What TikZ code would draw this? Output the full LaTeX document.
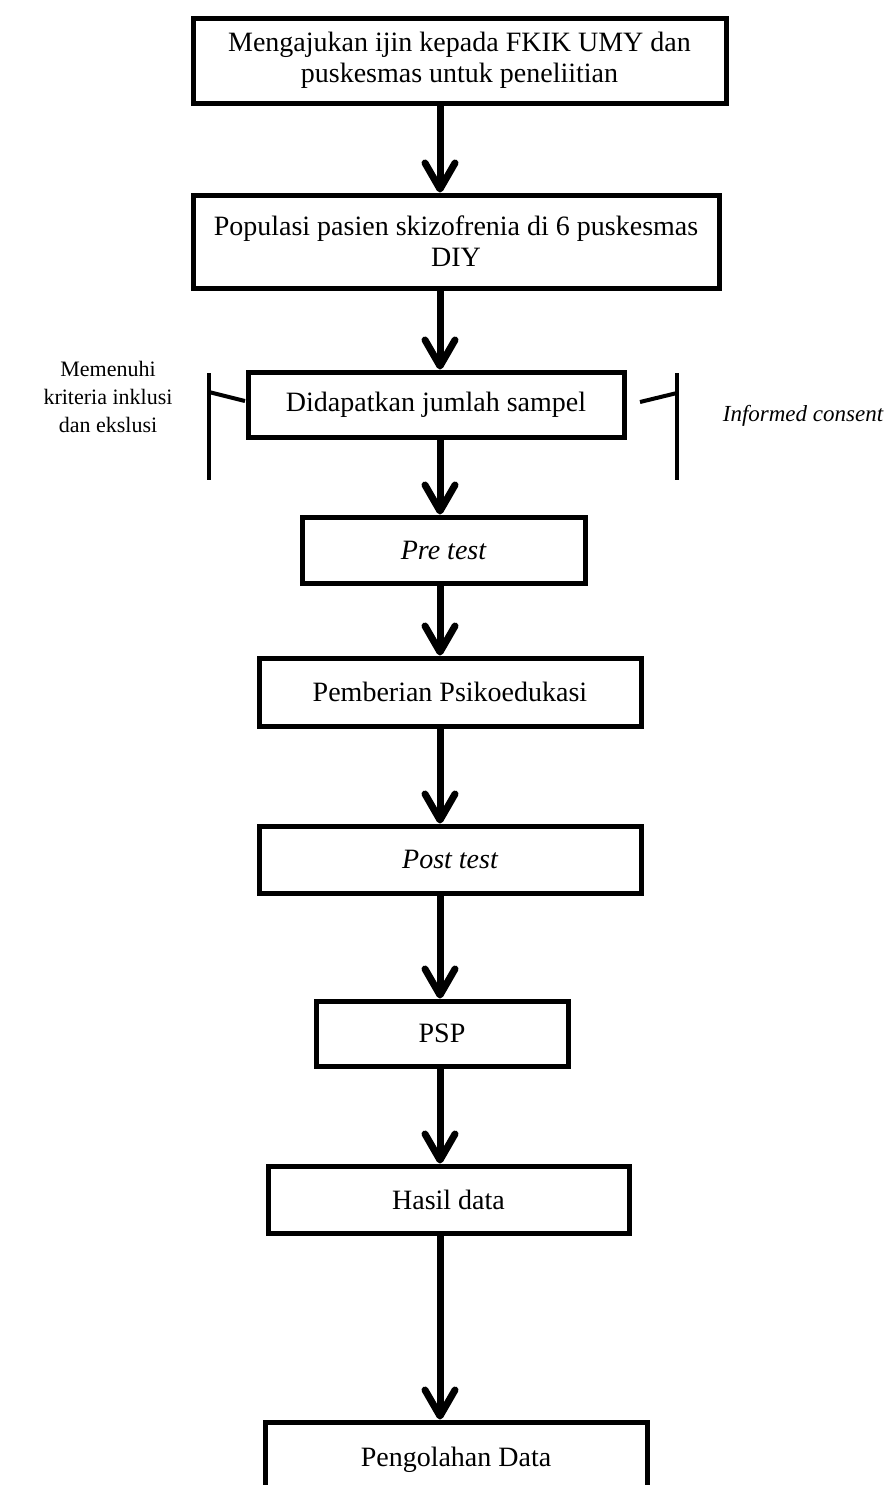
\documentclass[tikz,border=0pt]{standalone}
\usepackage{fontspec}
\setmainfont{Liberation Serif}
\usetikzlibrary{arrows.meta}
\begin{document}
\begin{tikzpicture}[x=0.5pt,y=-0.5pt,
  box/.style={draw,line width=2.5pt,inner sep=0pt,align=center,
    font=\fontsize{14}{15.5}\selectfont},
  arr/.style={line width=3.5pt,-{Straight Barb[length=13pt,width=15pt,line cap=round,line join=round]}},
  brk/.style={line width=2pt},
  side/.style={align=center,font=\fontsize{11}{14}\selectfont}]
\useasboundingbox (0,0) rectangle (892,1485);
\clip (0,0) rectangle (892,1485);
\node[box,minimum width=266.5pt,minimum height=42.5pt] (b1) at (459.5,60.5)
  {Mengajukan ijin kepada FKIK UMY dan\\puskesmas untuk peneliitian};
\node[box,minimum width=263pt,minimum height=46.5pt] (b2) at (456,241.5)
  {Populasi pasien skizofrenia di 6 puskesmas\\DIY};
\node[box,minimum width=188pt,minimum height=32.5pt] (b3) at (436,404.5)
  {Didapatkan jumlah sampel};
\node[box,minimum width=141.5pt,minimum height=33pt] (b4) at (443.5,550)
  {\itshape Pre test};
\node[box,minimum width=191pt,minimum height=34pt] (b5) at (450,692)
  {Pemberian Psikoedukasi};
\node[box,minimum width=191pt,minimum height=33.5pt] (b6) at (450,859.5)
  {\itshape Post test};
\node[box,minimum width=126pt,minimum height=32.5pt] (b7) at (442,1033.5)
  {PSP};
\node[box,minimum width=180.5pt,minimum height=33.5pt] (b8) at (448.5,1199.5)
  {Hasil data};
\node[box,minimum width=191pt,minimum height=40pt] (b9) at (456,1462)
  {\raisebox{5pt}{Pengolahan Data}};
\coordinate (ax) at (440,0);
\draw[arr] (b1.south -| ax) -- (b2.north -| ax);
\draw[arr] (b2.south -| ax) -- (b3.north -| ax);
\draw[arr] (b3.south -| ax) -- (b4.north -| ax);
\draw[arr] (b4.south -| ax) -- (b5.north -| ax);
\draw[arr] (b5.south -| ax) -- (b6.north -| ax);
\draw[arr] (b6.south -| ax) -- (b7.north -| ax);
\draw[arr] (b7.south -| ax) -- (b8.north -| ax);
\draw[arr] (b8.south -| ax) -- (b9.north -| ax);
% brackets
\draw[brk] (209,373) -- (209,480);
\draw[brk] (209,392) -- (245,401);
\draw[brk] (677,373) -- (677,480);
\draw[brk] (640,402) -- (677,393);
\node[side] (lt) at (108,397) {Memenuhi\\kriteria inklusi\\dan ekslusi};
\node[side,font=\fontsize{11.5}{14}\selectfont\itshape] (rt) at (803,416) {Informed consent};
\end{tikzpicture}
\end{document}
